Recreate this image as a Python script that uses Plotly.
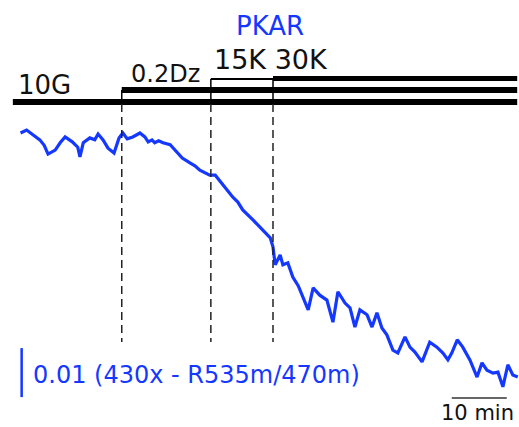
import plotly.graph_objects as go

# ---- data: PKAR emission ratio trace (time in min, ratio) ----
time_min = [0.1, 1.2, 2.4, 3.6, 4.4, 5.1, 6.4, 7.3, 8.2, 9.5, 10.5, 10.9, 11.5, 12.7, 13.6, 14.2,
            15.1, 16.0, 17.1, 18.0, 18.7, 19.5, 20.5, 21.8, 22.7, 23.3, 24.0, 24.5, 25.2, 26.0,
            27.3, 28.2, 29.5, 30.9, 31.8, 32.7, 34.5, 35.5, 36.9, 38.7, 39.6, 40.5, 42.4, 43.6,
            45.5, 46.0, 46.4, 47.3, 47.8, 48.7, 49.6, 50.6, 51.5, 52.4, 53.3, 54.5, 55.8, 56.9,
            57.8, 59.1, 60.0, 60.9, 61.8, 63.1, 64.0, 64.9, 65.8, 66.7, 67.8, 68.7, 70.0, 70.9,
            71.8, 73.1, 74.5, 75.8, 76.9, 77.8, 78.5, 79.5, 80.5, 81.8, 83.1, 84.0, 84.9, 86.0,
            86.9, 87.8, 88.7, 89.6, 90.5]
ratio = [1.0000, 1.0006, 0.9996, 0.9986, 0.9975, 0.9957, 0.9965, 0.9980, 0.9992, 0.9982, 0.9971,
         0.9951, 0.9980, 0.9990, 0.9986, 0.9998, 0.9986, 0.9969, 0.9959, 0.9990, 1.0000, 0.9988,
         0.9992, 1.0000, 0.9992, 0.9982, 0.9986, 0.9980, 0.9984, 0.9980, 0.9976, 0.9965, 0.9949,
         0.9939, 0.9933, 0.9924, 0.9914, 0.9914, 0.9894, 0.9869, 0.9859, 0.9843, 0.9822, 0.9808,
         0.9786, 0.9767, 0.9731, 0.9751, 0.9731, 0.9735, 0.9706, 0.9688, 0.9665, 0.9639, 0.9684,
         0.9669, 0.9659, 0.9614, 0.9676, 0.9653, 0.9643, 0.9604, 0.9639, 0.9629, 0.9604, 0.9633,
         0.9602, 0.9588, 0.9557, 0.9551, 0.9584, 0.9563, 0.9553, 0.9533, 0.9573, 0.9563, 0.9551,
         0.9537, 0.9551, 0.9578, 0.9563, 0.9537, 0.9502, 0.9531, 0.9516, 0.9510, 0.9512, 0.9482,
         0.9527, 0.9506, 0.9502]

# treatments (start time in min)
treat_labels = ["10G", "0.2Dz", "15K", "30K"]
treat_start = [-1.3, 18.5, 34.7, 46.0]
end_time = 90.4

scale_time = 10      # min
scale_ratio = 0.01

BLUE = "#1438ff"
BLACK = "#111111"
W, H = 519, 427


def py(p):
    """pixel row -> paper y"""
    return 1 - p / H


def px(p):
    return p / W


fig = go.Figure()
fig.add_trace(go.Scatter(x=time_min, y=ratio, mode="lines",
                         line=dict(color=BLUE, width=3.2), hoverinfo="skip"))

shapes = []
# treatment bars (x in data, y in paper)
bar = dict(type="line", xref="x", yref="paper", line=dict(color="black", width=6))
shapes.append({**bar, "x0": treat_start[0], "x1": end_time, "y0": py(102), "y1": py(102)})
shapes.append({**bar, "x0": treat_start[1], "x1": end_time, "y0": py(90), "y1": py(90)})
shapes.append({**bar, "x0": treat_start[2], "x1": treat_start[3], "y0": py(79), "y1": py(79),
               "line": dict(color="black", width=2)})
shapes.append({**bar, "x0": treat_start[3], "x1": end_time, "y0": py(78.5), "y1": py(78.5),
               "line": dict(color="black", width=5)})
# thin risers
for t, top in zip(treat_start[1:], [90, 79, 78]):
    shapes.append(dict(type="line", xref="x", yref="paper", x0=t, x1=t, y0=py(top), y1=py(102),
                       line=dict(color="black", width=1.5)))
# dashed markers
for t in treat_start[1:]:
    shapes.append(dict(type="line", xref="x", yref="paper", x0=t, x1=t, y0=py(104), y1=py(342),
                       line=dict(color="#222222", width=1.5, dash="8px,5px")))
# scale bars
shapes.append(dict(type="line", xref="x", yref="y", x0=0.3, x1=0.3,
                   y0=0.9461, y1=0.9461 + scale_ratio, line=dict(color=BLUE, width=2.5)))
shapes.append(dict(type="line", xref="x", yref="paper", x0=78.5, x1=78.5 + scale_time,
                   y0=py(398), y1=py(398), line=dict(color="#333333", width=1.5)))

ann = []
font_b = dict(family="DejaVu Sans", color=BLACK)
ann.append(dict(text="PKAR", x=px(270), y=py(26), xref="paper", yref="paper", showarrow=False,
                xanchor="center", yanchor="middle", font=dict(family="DejaVu Sans", size=26, color=BLUE)))
ann.append(dict(text=treat_labels[0], x=px(16), y=py(85), xref="paper", yref="paper", showarrow=False,
                xanchor="left", yanchor="middle", font={**font_b, "size": 26}))
ann.append(dict(text=treat_labels[1], x=px(129), y=py(74), xref="paper", yref="paper", showarrow=False,
                xanchor="left", yanchor="middle", font={**font_b, "size": 24}))
ann.append(dict(text=treat_labels[2] + " " + treat_labels[3], x=px(212), y=py(60), xref="paper",
                yref="paper", showarrow=False, xanchor="left", yanchor="middle",
                font={**font_b, "size": 27}))
ann.append(dict(text="0.01 (430x - R535m/470m)", x=px(31), y=py(375), xref="paper", yref="paper",
                showarrow=False, xanchor="left", yanchor="middle",
                font=dict(family="DejaVu Sans", size=24, color=BLUE)))
ann.append(dict(text="10 min", x=px(477), y=py(413), xref="paper", yref="paper", showarrow=False,
                xanchor="center", yanchor="middle", font={**font_b, "size": 21}))

fig.update_layout(
    width=W, height=H, margin=dict(l=0, r=0, t=0, b=0),
    paper_bgcolor="white", plot_bgcolor="white", showlegend=False,
    xaxis=dict(range=[-20 / 5.5, 499 / 5.5], visible=False, fixedrange=True),
    yaxis=dict(range=[1 - 294 / 4900, 1 + 133 / 4900], visible=False, fixedrange=True),
    shapes=shapes, annotations=ann,
)

fig.write_html("out.html", config={"displayModeBar": False})
